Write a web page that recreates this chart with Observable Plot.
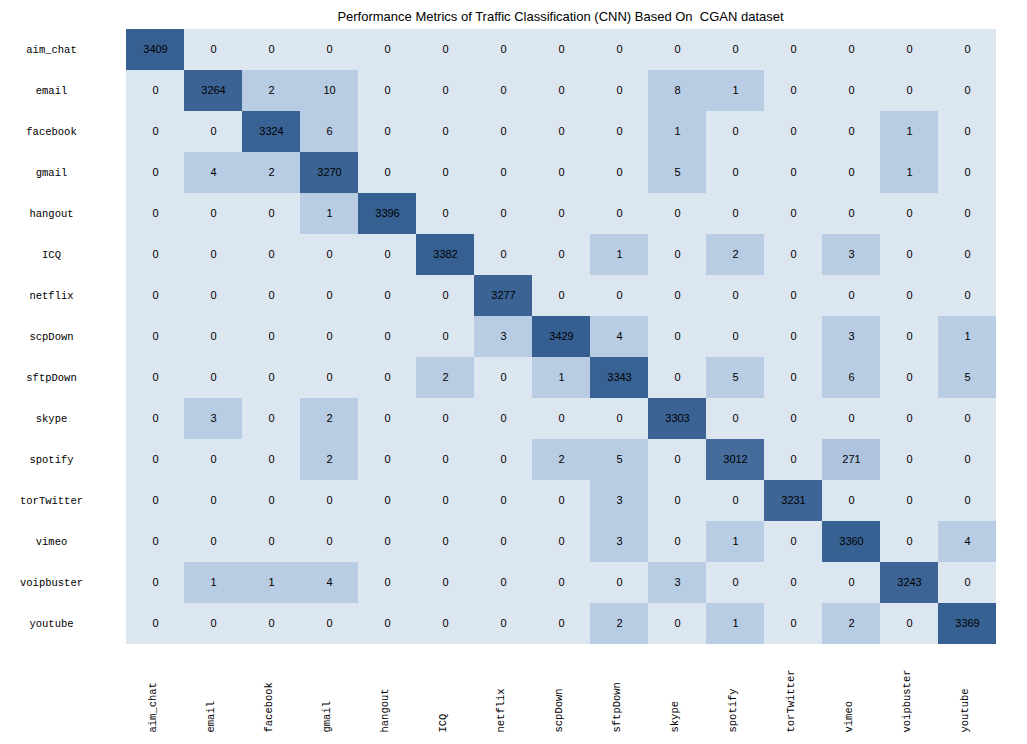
<!DOCTYPE html>
<html>
<head>
<meta charset="utf-8">
<script src="https://cdn.jsdelivr.net/npm/d3@7"></script>
<script src="https://cdn.jsdelivr.net/npm/@observablehq/plot@0.6"></script>
<style>
  html, body { margin: 0; padding: 0; background: #fff; }
  #wrap { position: relative; width: 1027px; }
  #title { position: absolute; top: 9px; left: 125px; width: 871px; height: 16px; line-height: 16px; text-align: center;
           font: 13px "Liberation Sans", Arial, sans-serif; color: #000; white-space: pre; }
  #chart { padding-top: 28px; }
  svg { display: block; }
</style>
</head>
<body>
<div id="wrap">
<div id="title">Performance Metrics of Traffic Classification (CNN) Based On  CGAN dataset</div>
<div id="chart"></div>
</div>
<script>
const classes = ["aim_chat","email","facebook","gmail","hangout","ICQ","netflix","scpDown","sftpDown","skype","spotify","torTwitter","vimeo","voipbuster","youtube"];

const aim_chat   = [3409,0,0,0,0,0,0,0,0,0,0,0,0,0,0];
const email      = [0,3264,2,10,0,0,0,0,0,8,1,0,0,0,0];
const facebook   = [0,0,3324,6,0,0,0,0,0,1,0,0,0,1,0];
const gmail      = [0,4,2,3270,0,0,0,0,0,5,0,0,0,1,0];
const hangout    = [0,0,0,1,3396,0,0,0,0,0,0,0,0,0,0];
const ICQ        = [0,0,0,0,0,3382,0,0,1,0,2,0,3,0,0];
const netflix    = [0,0,0,0,0,0,3277,0,0,0,0,0,0,0,0];
const scpDown    = [0,0,0,0,0,0,3,3429,4,0,0,0,3,0,1];
const sftpDown   = [0,0,0,0,0,2,0,1,3343,0,5,0,6,0,5];
const skype      = [0,3,0,2,0,0,0,0,0,3303,0,0,0,0,0];
const spotify    = [0,0,0,2,0,0,0,2,5,0,3012,0,271,0,0];
const torTwitter = [0,0,0,0,0,0,0,0,3,0,0,3231,0,0,0];
const vimeo      = [0,0,0,0,0,0,0,0,3,0,1,0,3360,0,4];
const voipbuster = [0,1,1,4,0,0,0,0,0,3,0,0,0,3243,0];
const youtube    = [0,0,0,0,0,0,0,0,2,0,1,0,2,0,3369];

const rows = [aim_chat,email,facebook,gmail,hangout,ICQ,netflix,scpDown,sftpDown,skype,spotify,torTwitter,vimeo,voipbuster,youtube];

const data = [];
rows.forEach((r, i) => r.forEach((v, j) => data.push({actual: classes[i], predicted: classes[j], value: v})));
const maxV = d3.max(data, d => d.value);

const labelFont = "'Liberation Mono', 'DejaVu Sans Mono', monospace";

const chart = Plot.plot({
  width: 1027,
  height: 716,
  marginLeft: 125,
  marginRight: 31,
  marginTop: 0,
  marginBottom: 100,
  style: { background: "#fff", fontFamily: "'Liberation Sans', Arial, sans-serif" },
  x: { domain: classes, padding: 0, axis: null },
  y: { domain: classes, padding: 0, axis: null },
  color: { type: "linear", domain: [0, 1, maxV], range: ["#dce6f1", "#b8cce4", "#355f91"], interpolate: "rgb" },
  marks: [
    Plot.cell(data, { x: "predicted", y: "actual", fill: "value", inset: 0 }),
    Plot.text(data, { x: "predicted", y: "actual", text: d => String(d.value), fill: "#000", fontSize: 11, dy: -1 }),
    Plot.text(classes, { y: d => d, text: d => d, frameAnchor: "left", dx: -74, textAnchor: "middle",
      fontFamily: labelFont, fontSize: 10.5, fill: "#000" }),
    Plot.text(classes, { x: d => d, text: d => d, frameAnchor: "bottom", dy: 88, rotate: -90, textAnchor: "start",
      fontFamily: labelFont, fontSize: 10.5, fill: "#000" })
  ]
});
document.getElementById("chart").appendChild(chart);
</script>
</body>
</html>
